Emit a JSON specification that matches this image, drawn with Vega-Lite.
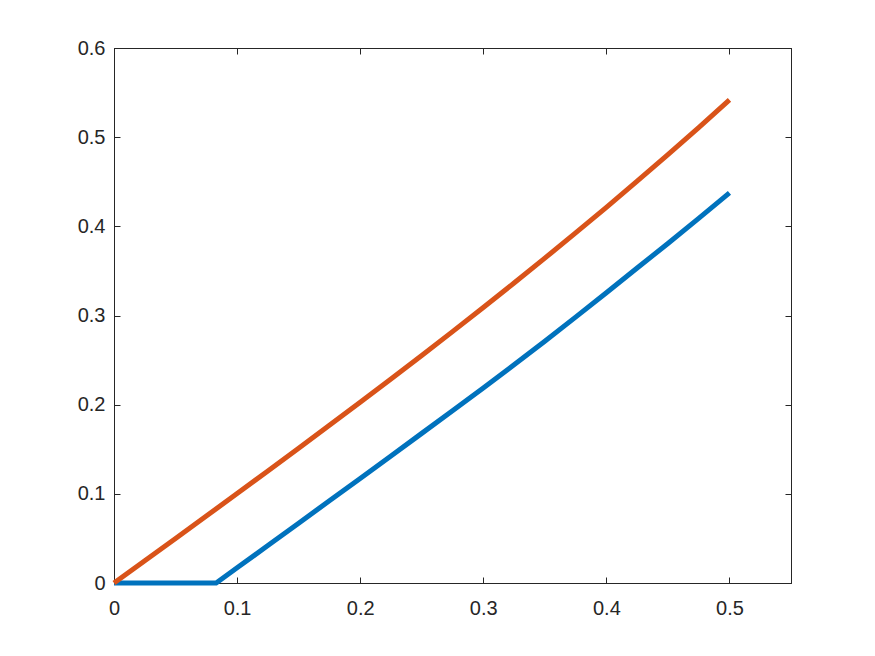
{
  "$schema": "https://vega.github.io/schema/vega-lite/v6.json",
  "width": 677,
  "height": 535,
  "autosize": {"type": "none"},
  "padding": {"left": 114, "top": 48, "right": 84, "bottom": 73},
  "background": "white",
  "config": {
    "view": {"stroke": "#262626", "strokeWidth": 1},
    "axis": {
      "labelFont": "Liberation Sans",
      "labelFontSize": 20,
      "labelColor": "#262626",
      "domainColor": "#262626",
      "tickColor": "#262626",
      "grid": false,
      "tickSize": -6,
      "labelFlush": false,
      "labelOverlap": false,
      "format": "~g",
      "title": null
    }
  },
  "data": {
    "values": [
      {"x": 0, "y": 0, "s": "a"},
      {"x": 0.083, "y": 0, "s": "a"},
      {"x": 0.1, "y": 0.017, "s": "a"},
      {"x": 0.125, "y": 0.042, "s": "a"},
      {"x": 0.15, "y": 0.0671, "s": "a"},
      {"x": 0.175, "y": 0.0922, "s": "a"},
      {"x": 0.2, "y": 0.1172, "s": "a"},
      {"x": 0.225, "y": 0.1425, "s": "a"},
      {"x": 0.25, "y": 0.1678, "s": "a"},
      {"x": 0.275, "y": 0.1932, "s": "a"},
      {"x": 0.3, "y": 0.2188, "s": "a"},
      {"x": 0.325, "y": 0.2448, "s": "a"},
      {"x": 0.35, "y": 0.2711, "s": "a"},
      {"x": 0.375, "y": 0.2982, "s": "a"},
      {"x": 0.4, "y": 0.3255, "s": "a"},
      {"x": 0.425, "y": 0.3532, "s": "a"},
      {"x": 0.45, "y": 0.3808, "s": "a"},
      {"x": 0.475, "y": 0.4089, "s": "a"},
      {"x": 0.5, "y": 0.4375, "s": "a"},
      {"x": 0, "y": 0, "s": "b"},
      {"x": 0.025, "y": 0.025, "s": "b"},
      {"x": 0.05, "y": 0.05, "s": "b"},
      {"x": 0.075, "y": 0.0751, "s": "b"},
      {"x": 0.1, "y": 0.1003, "s": "b"},
      {"x": 0.125, "y": 0.1257, "s": "b"},
      {"x": 0.15, "y": 0.1511, "s": "b"},
      {"x": 0.175, "y": 0.1768, "s": "b"},
      {"x": 0.2, "y": 0.2027, "s": "b"},
      {"x": 0.225, "y": 0.2288, "s": "b"},
      {"x": 0.25, "y": 0.2552, "s": "b"},
      {"x": 0.275, "y": 0.2819, "s": "b"},
      {"x": 0.3, "y": 0.309, "s": "b"},
      {"x": 0.325, "y": 0.3364, "s": "b"},
      {"x": 0.35, "y": 0.3643, "s": "b"},
      {"x": 0.375, "y": 0.3926, "s": "b"},
      {"x": 0.4, "y": 0.4213, "s": "b"},
      {"x": 0.425, "y": 0.4506, "s": "b"},
      {"x": 0.45, "y": 0.4804, "s": "b"},
      {"x": 0.475, "y": 0.5107, "s": "b"},
      {"x": 0.5, "y": 0.5417, "s": "b"}
    ]
  },
  "layer": [
    {
      "mark": {"type": "line", "strokeWidth": 5, "clip": false},
      "encoding": {
        "x": {"field": "x", "type": "quantitative", "scale": {"domain": [0, 0.55], "nice": false, "zero": false},
              "axis": {"orient": "bottom", "values": [0, 0.1, 0.2, 0.3, 0.4, 0.5], "labelPadding": 21}},
        "y": {"field": "y", "type": "quantitative", "scale": {"domain": [0, 0.6], "nice": false},
              "axis": {"orient": "left", "values": [0, 0.1, 0.2, 0.3, 0.4, 0.5, 0.6], "labelPadding": 15}},
        "color": {"field": "s", "type": "nominal", "scale": {"domain": ["a", "b"], "range": ["#0072BD", "#D95319"]}, "legend": null}
      }
    },
    {
      "mark": {"type": "line", "opacity": 0},
      "encoding": {
        "x": {"field": "x", "type": "quantitative", "scale": {"domain": [0, 0.55], "nice": false, "zero": false},
              "axis": {"orient": "top", "values": [0, 0.1, 0.2, 0.3, 0.4, 0.5], "labels": false}},
        "y": {"field": "y", "type": "quantitative", "scale": {"domain": [0, 0.6], "nice": false},
              "axis": {"orient": "right", "values": [0, 0.1, 0.2, 0.3, 0.4, 0.5, 0.6], "labels": false}}
      }
    }
  ],
  "resolve": {"axis": {"x": "independent", "y": "independent"}}
}
